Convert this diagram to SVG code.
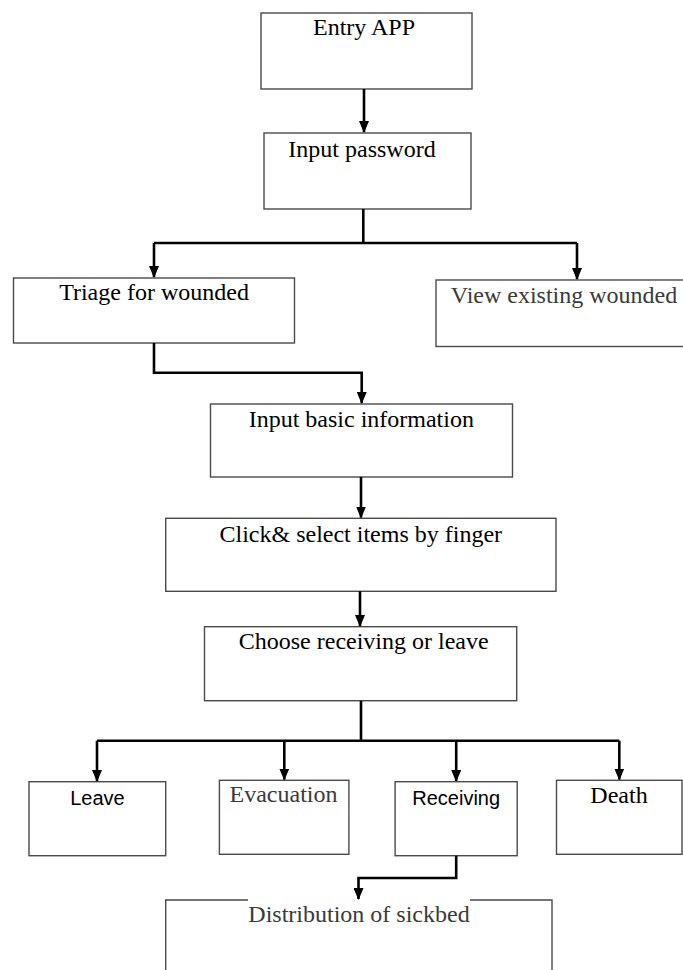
<svg xmlns="http://www.w3.org/2000/svg" width="683" height="970" viewBox="0 0 683 970">
<style>
.box{fill:#fff;stroke:#4a4a4a;stroke-width:1.4}
.edge{fill:none;stroke:#000;stroke-width:2.6}
.serif{font-family:"Liberation Serif","Times New Roman",serif;font-size:24px;fill:#000;text-anchor:middle}
.gray{fill:#3a3a3a}
.sans{font-family:"Liberation Sans",Arial,sans-serif;font-size:20px;fill:#000;text-anchor:middle}
</style>
<defs>
<marker id="arr" markerUnits="userSpaceOnUse" markerWidth="12" markerHeight="10" viewBox="0 0 12 10" refX="11" refY="5" orient="auto">
<path d="M0,0 L12,5 L0,10 z" fill="#000"/>
</marker>
</defs>
<rect width="683" height="970" fill="#fff"/>
<g id="n-entry"><rect class="box" x="261" y="13" width="211" height="76"/><text class="serif" x="364" y="35">Entry APP</text></g>
<g id="n-password"><rect class="box" x="264" y="133" width="207" height="76"/><text class="serif" x="362" y="157">Input password</text></g>
<g id="n-triage"><rect class="box" x="13.5" y="278" width="281" height="65"/><text class="serif" x="154" y="300">Triage for wounded</text></g>
<g id="n-view"><rect class="box" x="436" y="280" width="250" height="66.5"/><text class="serif gray" x="564" y="303">View existing wounded</text></g>
<g id="n-basic"><rect class="box" x="210.5" y="404" width="302" height="73"/><text class="serif" x="361.3" y="426.7">Input basic information</text></g>
<g id="n-click"><rect class="box" x="165.7" y="518.3" width="390.3" height="73"/><text class="serif" x="360.8" y="541.7">Click&amp; select items by finger</text></g>
<g id="n-choose"><rect class="box" x="204.5" y="626.7" width="312.2" height="74"/><text class="serif" x="363.7" y="649.3">Choose receiving or leave</text></g>
<g id="n-leave"><rect class="box" x="29" y="781.7" width="136.7" height="74"/><text class="sans" x="97.5" y="804.5">Leave</text></g>
<g id="n-evac"><rect class="box" x="219.4" y="780.3" width="129.5" height="74"/><text class="serif gray" x="283.5" y="802.3">Evacuation</text></g>
<g id="n-receiving"><rect class="box" x="395.1" y="781.7" width="122.1" height="74"/><text class="sans" x="456.2" y="805">Receiving</text></g>
<g id="n-death"><rect class="box" x="556.5" y="780.3" width="125.5" height="74"/><text class="serif" x="619" y="803.3">Death</text></g>
<g id="n-distribution"><path class="box" fill="none" d="M248,900 H165.7 V980 M470,900 H552 V980"/><text class="serif gray" x="359" y="921.7">Distribution of sickbed</text></g>
<g id="connectors">
<path class="edge" marker-end="url(#arr)" d="M364,89 V132"/>
<path class="edge" d="M363.3,209 V243 M154,243 H577"/>
<path class="edge" marker-end="url(#arr)" d="M154,243 V277"/>
<path class="edge" marker-end="url(#arr)" d="M577,243 V279"/>
<path class="edge" marker-end="url(#arr)" d="M154,343 V372.7 H361.7 V403"/>
<path class="edge" marker-end="url(#arr)" d="M361,477 V517.5"/>
<path class="edge" marker-end="url(#arr)" d="M360,591.3 V626"/>
<path class="edge" d="M361,700.7 V740.7 M97,740.7 H619.3"/>
<path class="edge" marker-end="url(#arr)" d="M97,740.7 V781"/>
<path class="edge" marker-end="url(#arr)" d="M284.3,740.7 V779.5"/>
<path class="edge" marker-end="url(#arr)" d="M456.2,740.7 V781"/>
<path class="edge" marker-end="url(#arr)" d="M619.3,740.7 V779.5"/>
<path class="edge" marker-end="url(#arr)" d="M456.2,855.7 V878 H358.5 V899"/>
</g>
</svg>
